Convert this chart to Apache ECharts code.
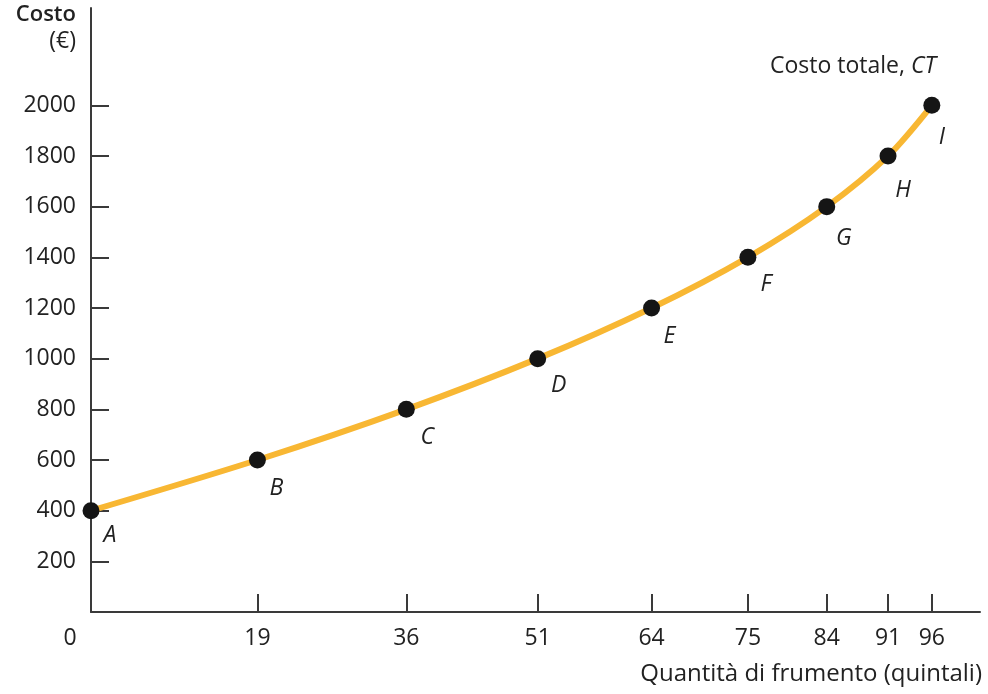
<!DOCTYPE html>
<html><head><meta charset="utf-8">
<script src="https://cdn.jsdelivr.net/npm/echarts@6/dist/echarts.min.js"></script>
<style>html,body{margin:0;padding:0;background:#fff}#c{width:988px;height:694px}</style>
</head><body><div id="c"></div>
<script>
const quantities = [0, 19, 36, 51, 64, 75, 84, 91, 96];
const totalCost = [400, 600, 800, 1000, 1200, 1400, 1600, 1800, 2000];
const pointNames = ['A', 'B', 'C', 'D', 'E', 'F', 'G', 'H', 'I'];
const xTickLabels = [0, 19, 36, 51, 64, 75, 84, 91, 96];
const yTickLabels = [200, 400, 600, 800, 1000, 1200, 1400, 1600, 1800, 2000];
const labelOffsets = [[19,25],[19,28],[21,28],[21,27],[18,28],[18,27],[17,32],[15,34],[10,32]];

const FONT = '"Open Sans", "Noto Sans", sans-serif';
const TXT = '#222';
const AX = '#3a3a3a';

const chart = echarts.init(document.getElementById('c'), null, {renderer: 'canvas'});
const data = quantities.map((q, i) => ({
  value: [q, totalCost[i]],
  name: pointNames[i],
  label: {offset: labelOffsets[i]}
}));
chart.setOption({
  animation: false,
  backgroundColor: '#fff',
  grid: {left: 91, right: 8, top: 8, bottom: 82},
  xAxis: {
    type: 'value', min: 0, max: 101.5,
    axisLine: {show: true, lineStyle: {color: AX, width: 2}},
    axisTick: {show: true, inside: true, length: 18, customValues: xTickLabels.slice(1), lineStyle: {color: AX, width: 2}},
    axisLabel: {
      customValues: xTickLabels, margin: 15, color: TXT, fontSize: 23, fontFamily: FONT,
      formatter: v => v === 0 ? '{z|0}' : String(v),
      rich: {z: {padding: [0, 42, 0, 0], fontSize: 23, fontFamily: FONT, color: TXT}}
    },
    splitLine: {show: false}
  },
  yAxis: {
    type: 'value', min: 0, max: 2384,
    axisLine: {show: true, lineStyle: {color: AX, width: 2}},
    axisTick: {show: true, inside: true, length: 18, customValues: yTickLabels, lineStyle: {color: AX, width: 2}},
    axisLabel: {customValues: yTickLabels, margin: 15, color: TXT, fontSize: 23, fontFamily: FONT,
      formatter: v => String(v)},
    splitLine: {show: false}
  },
  series: [{
    type: 'line',
    data: data,
    smooth: 0.3,
    symbol: 'circle',
    symbolSize: 17,
    itemStyle: {color: '#151515'},
    lineStyle: {color: '#F8B733', width: 6},
    z: 3,
    label: {
      show: true, position: 'inside', formatter: p => p.name,
      color: TXT, fontSize: 23, fontStyle: 'italic', fontFamily: FONT
    }
  }],
  graphic: [
    {type: 'text', right: 912, top: 4, style: {text: 'Costo', fill: TXT, font: '600 22px ' + FONT, align: 'right'}},
    {type: 'text', right: 912, top: 30, style: {text: '(€)', fill: TXT, font: '23px ' + FONT, align: 'right'}},
    {type: 'text', left: 770, top: 55, style: {
      text: 'Costo totale, {i|CT}', fill: TXT, font: '23px ' + FONT,
      rich: {i: {fontStyle: 'italic', fontSize: 23, fontFamily: FONT, fill: TXT}}
    }},
    {type: 'text', right: 6, top: 662, style: {text: 'Quantità di frumento (quintali)', fill: TXT, font: '24px ' + FONT}}
  ]
});
</script></body></html>
